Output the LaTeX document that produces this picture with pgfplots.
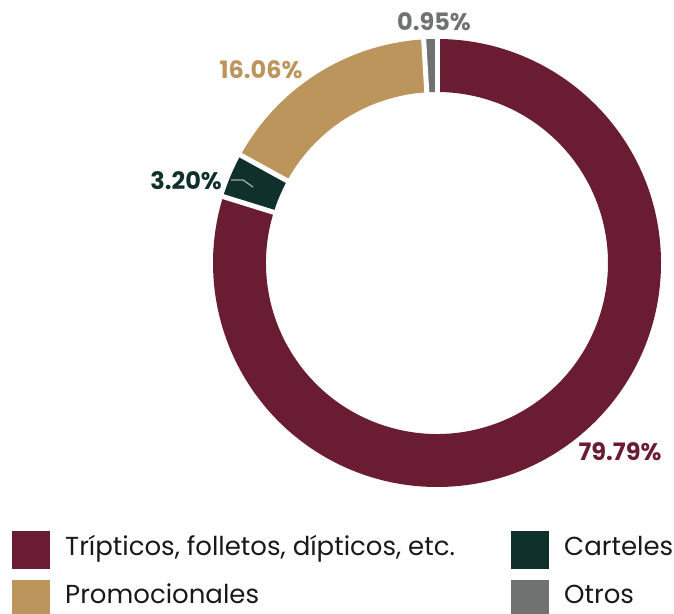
\documentclass[border=0pt]{standalone}
\usepackage{pgfplots}
\pgfplotsset{compat=1.18}
\usepackage{pgfplotstable}
\usepackage{fontspec}
\setmainfont{Poppins}
\usetikzlibrary{calc}

\definecolor{cTrip}{HTML}{691C32}
\definecolor{cCart}{HTML}{10312B}
\definecolor{cProm}{HTML}{BC955C}
\definecolor{cOtro}{HTML}{6F7271}

% share of each material, in %, clockwise from the top
\pgfplotstableread[col sep=comma]{
name,value
Tripticos,79.79
Carteles,3.20
Promocionales,16.06
Otros,0.95
}\piedata

\pgfplotstablegetelem{0}{value}\of\piedata \let\vA\pgfplotsretval
\pgfplotstablegetelem{1}{value}\of\piedata \let\vB\pgfplotsretval
\pgfplotstablegetelem{2}{value}\of\piedata \let\vC\pgfplotsretval
\pgfplotstablegetelem{3}{value}\of\piedata \let\vD\pgfplotsretval

\pgfmathsetmacro\aA{90}
\pgfmathsetmacro\aB{\aA-3.6*\vA}
\pgfmathsetmacro\aC{\aB-3.6*\vB}
\pgfmathsetmacro\aD{\aC-3.6*\vC}
\pgfmathsetmacro\aE{\aD-3.6*\vD}

\newcommand\ro{224bp}
\newcommand\ri{171bp}
\newcommand\slice[3]{% start, end, colour
  \fill[#3] ($(axis cs:437,351)+(#1:\ro)$) arc[start angle=#1, end angle=#2, radius=\ro]
    -- ($(axis cs:437,351)+(#2:\ri)$) arc[start angle=#2, end angle=#1, radius=\ri] -- cycle;}
\newcommand\gap[1]{%
  \draw[white, line width=5bp] ($(axis cs:437,351)+(#1:160bp)$) -- ($(axis cs:437,351)+(#1:236bp)$);}

\begin{document}
\begin{tikzpicture}
\begin{axis}[
    x=1bp, y=1bp,
    xmin=0, xmax=674, ymin=0, ymax=614,
    hide axis, clip=false,
  ]
  \slice{\aA}{\aB}{cTrip}
  \slice{\aB}{\aC}{cCart}
  \slice{\aC}{\aD}{cProm}
  \slice{\aD}{\aE}{cOtro}
  \gap{\aA}\gap{\aB}\gap{\aC}\gap{\aD}

  % leader line of the small slice
  \draw[black!35, line width=1.3bp] (axis cs:231,434) -- (axis cs:243,434) -- (axis cs:253,427);

  \begin{scope}[every node/.style={font=\fontsize{24bp}{28bp}\selectfont\bfseries, inner sep=0pt}]
    \node[cTrip] at (axis cs:620,162) {79.79\%};
    \node[cCart, anchor=east] at (axis cs:222,433) {3.20\%};
    \node[cProm] at (axis cs:261,544) {16.06\%};
    \node[cOtro] at (axis cs:434,592) {0.95\%};
  \end{scope}

  % legend
  \begin{scope}[every node/.style={font=\fontsize{26bp}{30bp}\selectfont, anchor=base west, inner sep=0pt, text=black!90}]
    \fill[cTrip] (axis cs:12,45) rectangle (axis cs:50,83);
    \node at (axis cs:65,58) {Trípticos, folletos, dípticos, etc.};
    \fill[cCart] (axis cs:511,45) rectangle (axis cs:549,83);
    \node at (axis cs:564,58) {Carteles};
    \fill[cProm] (axis cs:12,0) rectangle (axis cs:50,34);
    \node at (axis cs:65,10) {Promocionales};
    \fill[cOtro] (axis cs:511,0) rectangle (axis cs:549,34);
    \node at (axis cs:564,10) {Otros};
  \end{scope}
\end{axis}
\pgfresetboundingbox
\path[use as bounding box] (current axis.south west) rectangle (current axis.north east);
\end{tikzpicture}
\end{document}
